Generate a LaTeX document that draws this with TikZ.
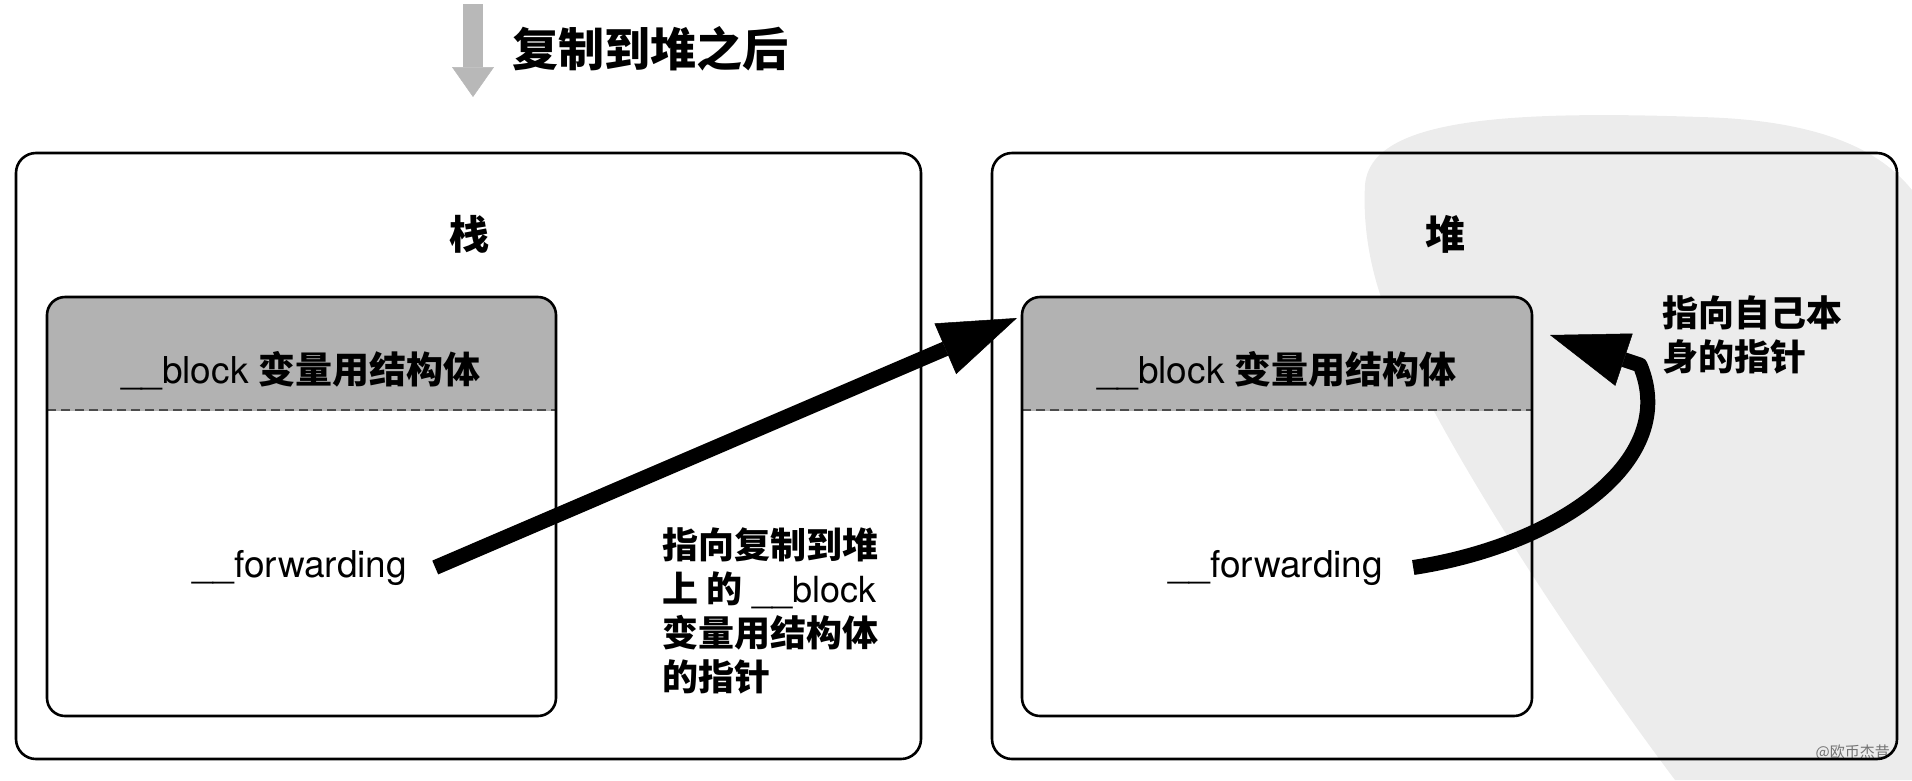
\documentclass[tikz,border=0pt]{standalone}
\usepackage{fontspec}
\setmainfont{TeX Gyre Heros}
\newfontfamily\cjk{Noto Sans CJK SC}
\usetikzlibrary{arrows.meta}
\definecolor{hdrgray}{rgb}{0.70,0.70,0.70}
\definecolor{arrgray}{rgb}{0.72,0.72,0.72}
\definecolor{wmgray}{rgb}{0.925,0.925,0.925}
\newcommand{\zh}[1]{{\cjk\bfseries #1}}
\tikzset{
  >=stealth,
  boxline/.style={draw=black,line width=2.6pt,rounded corners=20pt},
  blkline/.style={draw=black,line width=2.6pt,rounded corners=18pt},
  sepline/.style={draw=black!70,line width=1.8pt,dash pattern=on 9pt off 5pt},
  ptrline/.style={draw=black,line width=15pt,
    -{Triangle[length=78pt,width=55pt,line width=0.5pt]}},
  downarr/.style={draw=arrgray,line width=20pt,
    -{Triangle[length=30pt,width=42pt,line width=0.5pt]}},
  txt/.style={inner sep=0pt,font=\fontsize{37}{44}\selectfont},
  bigtxt/.style={inner sep=0pt,font=\fontsize{40}{44}\selectfont},
  note/.style={inner sep=0pt,align=left,anchor=north west,
    font=\fontsize{36}{44}\selectfont}
}

\begin{document}
\begin{tikzpicture}[x=1pt,y=-1pt]
  \useasboundingbox (0,0) rectangle (1912,780);
  % watermark blob
  \fill[wmgray] (1365,185) .. controls (1370,120) and (1500,110) .. (1700,117)
    .. controls (1820,120) and (1880,150) .. (1912,190) -- (1912,780) -- (1675,780)
    .. controls (1570,640) and (1425,420) .. (1382,300)
    .. controls (1368,260) and (1363,220) .. (1365,185) -- cycle;
  \node[anchor=east,inner sep=0pt,text=black!55,font=\cjk\fontsize{15}{16}\selectfont]
    (WMARK) at (1890,752) {@欧币杰昔};

  % title
  \coordinate (DTOP) at (473,4);
  \coordinate (DTIP) at (473,97);
  \draw (DTOP) -- (DTIP) [downarr];
  \node[anchor=west,inner sep=0pt,font=\fontsize{46}{50}\selectfont]
    (TITLE) at (512,49) {\zh{复制到堆之后}};

  % stack
  \draw[boxline] (16,153) rectangle (921,759);
  \node[bigtxt] (STACK) at (469,234) {\zh{栈}};
  \begin{scope}
    \clip (0,0) rectangle (1912,410);
    \fill[hdrgray,rounded corners=18pt] (47,297) rectangle (556,716);
  \end{scope}
  \draw (47,410) -- (556,410) [sepline];
  \draw[blkline] (47,297) rectangle (556,716);
  \node[txt,anchor=base] (HDRL) at (301,383) {\_\_block \zh{变量用结构体}};
  \node[txt,anchor=base] (FWDL) at (300,577) {\_\_forwarding};

  % heap
  \draw[boxline] (992,153) rectangle (1897,759);
  \node[bigtxt] (HEAP) at (1445,234) {\zh{堆}};
  \begin{scope}
    \clip (0,0) rectangle (1912,410);
    \fill[hdrgray,rounded corners=18pt] (1022,297) rectangle (1532,716);
  \end{scope}
  \draw (1022,410) -- (1532,410) [sepline];
  \draw[blkline] (1022,297) rectangle (1532,716);
  \node[txt,anchor=base] (HDRR) at (1277,383) {\_\_block \zh{变量用结构体}};
  \node[txt,anchor=base] (FWDR) at (1276,577) {\_\_forwarding};

  % pointers
  \coordinate (TIPA) at (1017,318);
  \coordinate (TIPB) at (1550,335);
  \draw ([xshift=28pt]FWDL.east) -- (TIPA) [ptrline];
  \draw ([xshift=30pt]FWDR.east) .. controls (1560,545) and (1680,460) .. (1640,365)
    -- (TIPB) [ptrline,line join=round];
  \node[note] (NOTEA) at (662,527)
    {\zh{指向复制到堆}\\\zh{上 的} \_\_block\\\zh{变量用结构体}\\\zh{的指针}};
  \node[note] (NOTEB) at (1662,295) {\zh{指向自己本}\\\zh{身的指针}};
\end{tikzpicture}
\end{document}
